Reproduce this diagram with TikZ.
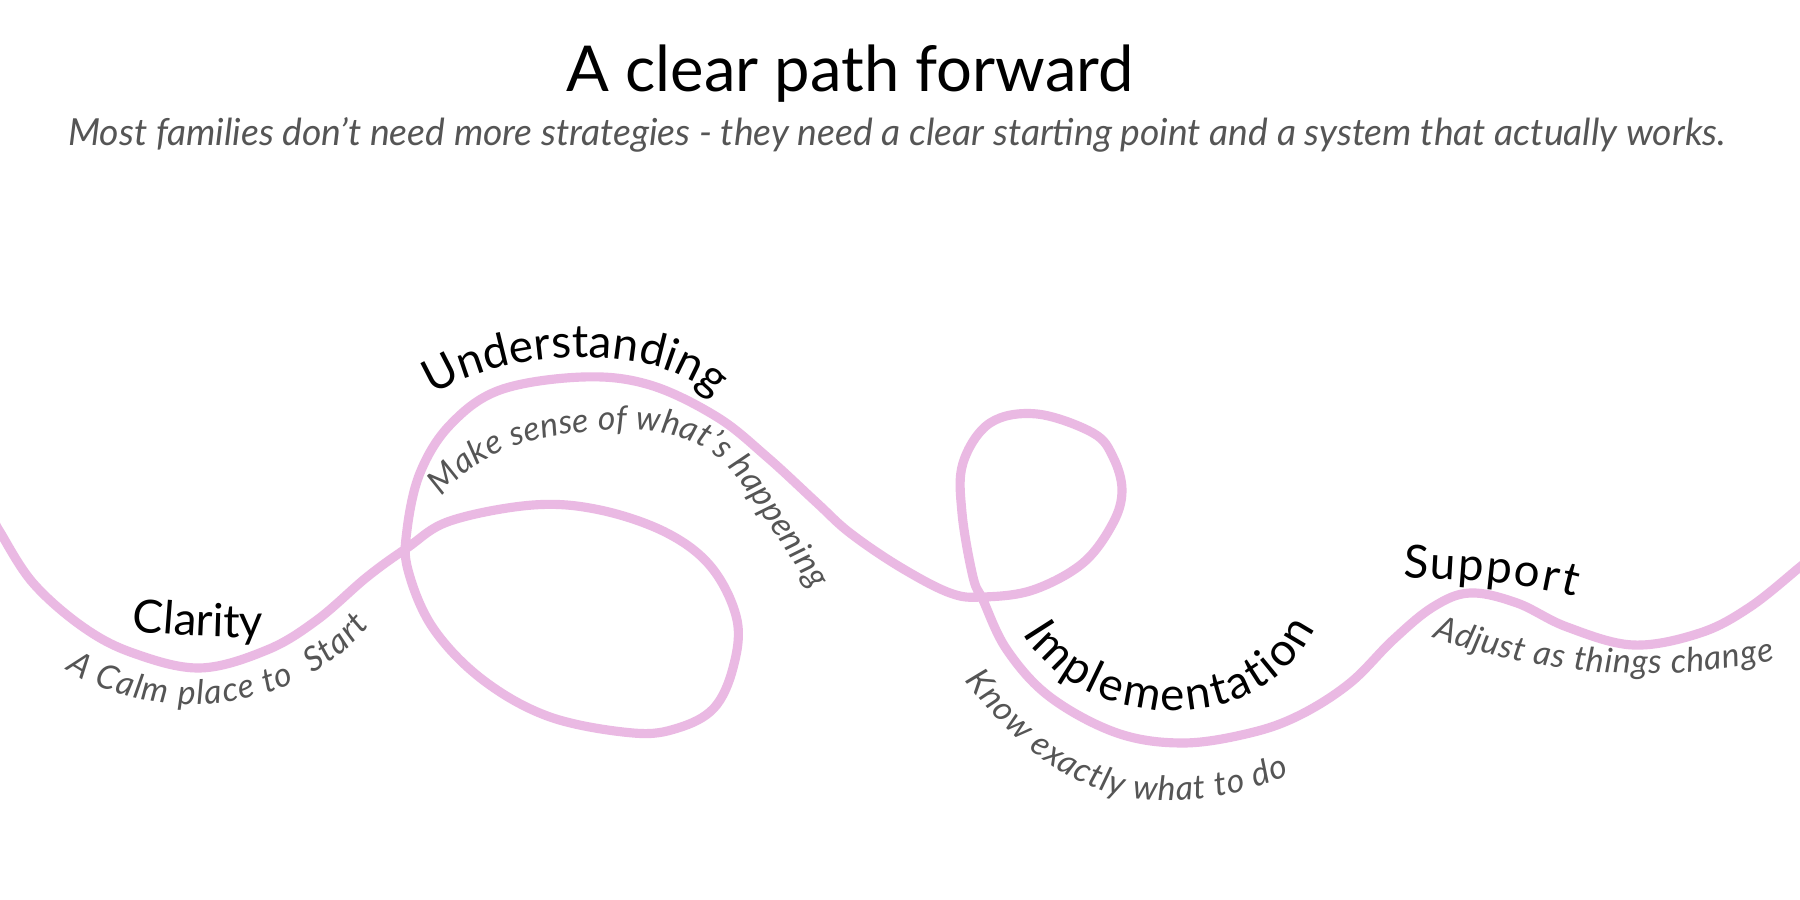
\documentclass[tikz,border=0pt]{standalone}
\usepackage{fontspec}
\setmainfont{Lato}
\usetikzlibrary{decorations.text}
\definecolor{curvepink}{RGB}{234,185,227}
\definecolor{txtgray}{RGB}{85,85,85}
\newcommand{\titlefont}{\fontsize{18pt}{22pt}\selectfont}
\newcommand{\subfont}{\fontsize{10.6pt}{13pt}\selectfont\itshape}
\newcommand{\lblfont}{\fontsize{13pt}{16pt}\selectfont}
\newcommand{\glblfont}{\fontsize{9.6pt}{12pt}\selectfont\itshape}
\begin{document}
\begin{tikzpicture}[x=0.01cm,y=0.01cm,
  curve/.style={draw=curvepink, line width=2.6pt, line cap=round, line join=round},
  blabel/.style={decorate, decoration={text along path, text color=black, text align={fit to path}}},
  glabel/.style={decorate, decoration={text along path, text color=txtgray, text align={fit to path}}}]
\fill[white] (0,0) rectangle (1800,900);
\useasboundingbox (0,0) rectangle (1800,900);
\clip (0,0) rectangle (1800,900);

\node[anchor=base, font=\titlefont, text=black] (title) at (850,808) {A clear path forward};
\node[anchor=base, font=\subfont, text=txtgray] (subtitle) at (897,754) {Most families don’t need more strategies - they need a clear starting point and a system that actually works.};

\draw[curve] plot[smooth, tension=0.6] coordinates {
 (-4,376) (0,368) (33,317) (83,273) (133,247) (200,232) (267,250) (317,280) (367,323)
 (407,352) (450,379) (533,395) (600,390) (667,367) (712,332) (737,280) (733,232)
 (714,192) (678,172) (633,167) (550,183) (483,220) (433,272) (408,330) (407,370) (420,427)
 (450,475) (500,510) (583,523) (650,515) (717,483) (767,443) (817,397) (850,367)
 (900,333) (950,307) (983,303) (1033,310) (1083,337) (1113,377) (1122,410) (1113,443)
 (1093,467) (1037,486) (990,477) (963,437) (962,387) (973,323) (983,300) (1007,250)
 (1050,203) (1117,167) (1183,157) (1250,167) (1300,185) (1350,217) (1393,260)
 (1433,293) (1470,307) (1517,297) (1567,273) (1633,255) (1700,267) (1750,293)
 (1800,333) (1806,338)};

% Clarity
\path[blabel, decoration={text={|\lblfont|Clarity}}]
  (132,269) .. controls (175,265) and (215,262) .. (258,263);
\path[glabel, decoration={text={|\glblfont|A Calm place to {\ }Start}}]
  (66,231) .. controls (130,185) and (280,170) .. (370,274);
% Understanding
\path[blabel, decoration={text={|\lblfont|Understanding}}]
  (433,505) .. controls (490,545) and (650,565) .. (714,502);
\path[glabel, decoration={text={|\glblfont|Make sense of what’s happening}}]
  (442,403) .. controls (482,452) and (540,468) .. (620,470)
  .. controls (680,471) and (715,455) .. (745,412)
  .. controls (768,378) and (790,344) .. (812,310);
% Implementation
\path[blabel, decoration={text={|\lblfont|Implementation}}]
  (1023,267) .. controls (1075,175) and (1255,150) .. (1315,272);
\path[glabel, decoration={text={|\glblfont|Know exactly what to do}}]
  (965,220) .. controls (1010,160) and (1070,105) .. (1150,100)
  .. controls (1210,97) and (1255,110) .. (1290,125);
% Support
\path[blabel, decoration={text={|\lblfont|Support}}]
  (1403,323) .. controls (1460,320) and (1520,318) .. (1575,303);
\path[glabel, decoration={text={|\glblfont|Adjust as things change}}]
  (1433,263) .. controls (1510,235) and (1630,210) .. (1775,240);
\end{tikzpicture}
\end{document}
